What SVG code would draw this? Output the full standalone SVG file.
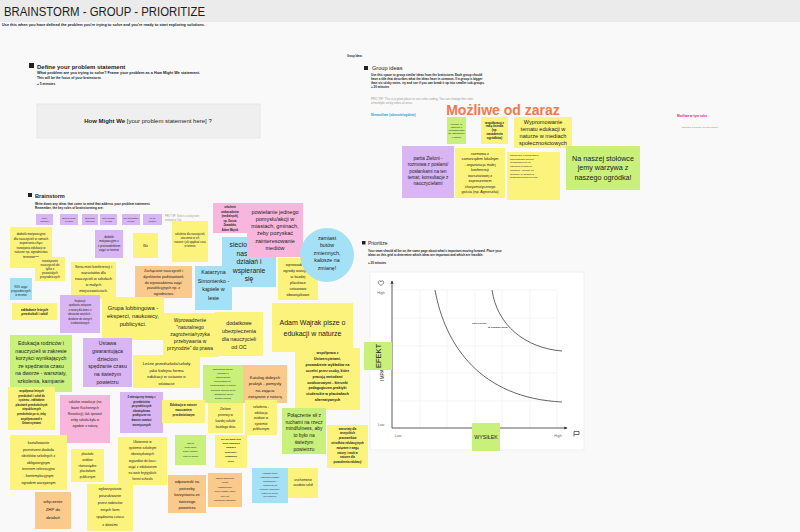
<svg xmlns="http://www.w3.org/2000/svg" width="800" height="532" viewBox="0 0 800 532">
<defs>
<style>
text{font-family:"Liberation Sans",Arial,sans-serif;fill:#1c1c1c}
.t{text-anchor:middle}
.y{fill:#fbf37c}.g{fill:#c9f07b}.p{fill:#d9b5f4}.k{fill:#f8b6dd}.c{fill:#a4e1f6}.o{fill:#f9ca8c}
.h{font-weight:bold}
.gray{fill:#9a9a9a}
.grid{stroke:#ececec;stroke-width:0.6;fill:none}
.axis{stroke:#333;stroke-width:0.8;fill:none}
.curve{stroke:#222;stroke-width:0.7;fill:none}
</style>
<marker id="ah" viewBox="0 0 6 6" refX="5" refY="3" markerWidth="4" markerHeight="4" orient="auto"><path d="M0,0L6,3L0,6z" fill="#333"/></marker>
</defs>
<rect width="800" height="532" fill="#f9f9f9"/>
<rect width="800" height="22" fill="#ebebeb"/>
<text x="4" y="16" font-size="12.5" textLength="201" lengthAdjust="spacingAndGlyphs" fill="#333">BRAINSTORM - GROUP - PRIORITIZE</text>
<text x="2" y="26" font-size="3.8" class="h" textLength="203" lengthAdjust="spacingAndGlyphs">Use this when you have defined the problem you're trying to solve and you're ready to start exploring solutions.</text>
<text x="347" y="57" font-size="2.6" class="h">Group Ideas</text>

<g id="define">
<rect x="29" y="63" width="5" height="5" fill="#222"/>
<text x="37" y="68.5" font-size="6" class="h">Define your problem statement</text>
<text x="37" y="74" font-size="3.3" class="h" textLength="163" lengthAdjust="spacingAndGlyphs">What problem are you trying to solve? Frame your problem as a How Might We statement.</text>
<text x="37" y="79" font-size="3.3" class="h">This will be the focus of your brainstorm.</text>
<text x="37" y="85" font-size="3.3" class="h">+ 5 minutes</text>
<rect x="37" y="104" width="223" height="34" fill="#efefef" stroke="#dcdcdc" stroke-width="0.6"/>
<text x="148" y="123" font-size="6" class="t"><tspan class="h">How Might We</tspan> [your problem statement here] ?</text>
</g>

<g id="group-ideas">
<rect x="364" y="66" width="4" height="4" fill="#222"/>
<text x="372" y="70" font-size="5.6">Group ideas</text>
<text font-size="3" class="h"><tspan x="371" y="75.5">Use this space to group similar ideas from the brainstorm. Each group should</tspan><tspan x="371" y="79.5">have a title that describes what the ideas have in common. If a group is bigger</tspan><tspan x="371" y="83.5">than six sticky notes, try and see if you can break it up into smaller sub-groups.</tspan><tspan x="371" y="88">+ 20 minutes</tspan></text>
<text font-size="3" class="gray"><tspan x="371" y="100">PRO TIP: This is a great place to use color-coding. You can change the color</tspan><tspan x="371" y="104">of multiple sticky notes at once.</tspan></text>
<text x="371" y="116" font-size="3.2" class="h" style="fill:#1a9ad6">Niemożliwe (obecnie/ogólnie)</text>
<text x="503" y="115" font-size="14" class="t h" style="fill:#f07a4c">Możliwe od zaraz</text>
<text x="677" y="117" font-size="3.2" class="h" style="fill:#e8207a">Możliwe w tym roku</text>
<text x="682" y="128" font-size="2.4" class="h" style="fill:#f39a1e">Możliwe w dalszej perspektywie</text>
</g>

<g id="g1"><rect class="g" x="447" y="117" width="19" height="27"/><text class="t" font-size="2.5"><tspan x="456.5" y="124.8">projekty in</tspan><tspan x="456.5" y="128">wspólnie z</tspan><tspan x="456.5" y="131.2">przedszkolami</tspan><tspan x="456.5" y="134.4">we współpracy</tspan><tspan x="456.5" y="137.6">z gminą</tspan></text></g>
<g id="g2"><rect class="y" x="481" y="117" width="27" height="27"/><text class="t h" font-size="3"><tspan x="494.5" y="123.5">współpraca z</tspan><tspan x="494.5" y="127.3">radą osiedla</tspan><tspan x="494.5" y="131.1">(np.</tspan><tspan x="494.5" y="134.9">nasadzenia</tspan><tspan x="494.5" y="138.7">ogródków)</tspan></text></g>
<g id="g3"><rect class="y" x="514" y="117" width="58" height="31"/><text class="t" font-size="5.6"><tspan x="543" y="124">Wypromowanie</tspan><tspan x="543" y="131">tematu edukacji w</tspan><tspan x="543" y="138">naturze w mediach</tspan><tspan x="543" y="145">społecznościowych</tspan></text></g>
<g id="g4"><rect class="p" x="402" y="146" width="52" height="52"/><text class="t" font-size="4.6"><tspan x="428" y="160">partia Zieloni -</tspan><tspan x="428" y="166.3">rozmowa z posłami/</tspan><tspan x="428" y="172.6">posłankami na ten</tspan><tspan x="428" y="178.9">temat; konsultacje z</tspan><tspan x="428" y="185.2">nauczycielami</tspan></text></g>
<g id="g5"><rect class="y" x="455" y="148" width="50" height="50"/><text class="t" font-size="3.7"><tspan x="480" y="154.5">rozmowa z</tspan><tspan x="480" y="160">samorządem lokalnym</tspan><tspan x="480" y="165.5">- organizacja małej</tspan><tspan x="480" y="171">konferencji</tspan><tspan x="480" y="176.5">warsztatowej z</tspan><tspan x="480" y="182">zaproszeniem</tspan><tspan x="480" y="187.5">charyzmatycznego</tspan><tspan x="480" y="193">gościa (np. Agnieszka)</tspan></text></g>
<g id="g6"><rect class="y" x="507" y="152" width="53" height="48"/><text font-size="2.4"><tspan x="510" y="156">współpraca z samorządem</tspan><tspan x="510" y="159.7">województwa/ ścieżką</tspan><tspan x="510" y="163.4">pedagogicznych na</tspan><tspan x="510" y="167.1">zajęciach w naszych</tspan><tspan x="510" y="170.8">ogrodach - miejsce na</tspan><tspan x="510" y="174.5">działania, w ośrodku w</tspan><tspan x="510" y="178.2">doświadczeniach przyrody</tspan></text></g>
<g id="g7"><rect class="g" x="566" y="146" width="74" height="44"/><text class="t" font-size="7.2"><tspan x="603" y="160.5">Na naszej stołówce</tspan><tspan x="603" y="170.1">jemy warzywa z</tspan><tspan x="603" y="179.7">naszego ogródka!</tspan></text></g>

<g id="brainstorm-head">
<rect x="28" y="193" width="4" height="4" fill="#222"/>
<text x="35" y="197.5" font-size="5.6" class="h">Brainstorm</text>
<text font-size="3.1" class="h"><tspan x="35" y="205">Write down any ideas that come to mind that address your problem statement.</tspan><tspan x="35" y="209">Remember, the key rules of brainstorming are:</tspan></text>
<text font-size="2.6" class="gray"><tspan x="165" y="217">PRO TIP: Select a sticky note</tspan><tspan x="165" y="221">and press Tab</tspan></text>
</g>
<g id="rule1"><rect class="p" x="36" y="214" width="17" height="11"/><text class="t" font-size="2.1"><tspan x="44.5" y="218.8">Defer</tspan><tspan x="44.5" y="221.8">judgment</tspan></text></g>
<g id="rule2"><rect class="p" x="60" y="214" width="18" height="11"/><text class="t" font-size="2.1"><tspan x="69" y="218.8">Build on ideas</tspan><tspan x="69" y="221.8">of others</tspan></text></g>
<g id="rule3"><rect class="p" x="82" y="214" width="16" height="11"/><text class="t" font-size="2.1"><tspan x="90" y="218.8">Encourage</tspan><tspan x="90" y="221.8">wild ideas</tspan></text></g>
<g id="rule4"><rect class="p" x="100" y="214" width="17" height="11"/><text class="t" font-size="2.1"><tspan x="108.5" y="218.8">Stay focused</tspan><tspan x="108.5" y="221.8">on topic</tspan></text></g>
<g id="rule5"><rect class="p" x="122" y="214" width="18" height="11"/><text class="t" font-size="1.9"><tspan x="131" y="218.8">One conversation</tspan><tspan x="131" y="221.8">at a time</tspan></text></g>
<g id="rule6"><rect class="p" x="143" y="214" width="19" height="11"/><text class="t" font-size="2.1"><tspan x="152.5" y="218.8">Go for</tspan><tspan x="152.5" y="221.8">quantity</tspan></text></g>

<g id="b1"><rect class="y" x="10" y="227" width="42" height="41"/><text class="t" font-size="3.1"><tspan x="31" y="235">dodatki motywacyjne</tspan><tspan x="31" y="239.5">dla nauczycieli w ramach</tspan><tspan x="31" y="244">wspierania chęci</tspan><tspan x="31" y="248.5">rozwijania edukacji w</tspan><tspan x="31" y="253">naturze np. ogrodnictwa</tspan><tspan x="31" y="257.5">terenowego</tspan></text></g>
<g id="b2"><rect class="y" x="35" y="257" width="30" height="24"/><text class="t" font-size="3"><tspan x="50" y="262">rozwiązanie</tspan><tspan x="50" y="266">nauczycieli do</tspan><tspan x="50" y="270">tylko z</tspan><tspan x="50" y="274">pozostałych</tspan><tspan x="50" y="278">przyrodniczych</tspan></text></g>
<g id="b3"><rect class="p" x="95" y="230" width="28" height="28"/><text class="t" font-size="3"><tspan x="109" y="238">dodatki</tspan><tspan x="109" y="242.3">motywacyjne z</tspan><tspan x="109" y="246.6">z przewodnikiem</tspan><tspan x="109" y="250.9">zajęć w terenie</tspan></text></g>
<g id="b4"><rect class="y" x="133" y="233" width="25" height="25"/><text class="t" font-size="3.5" x="145.5" y="247">Wz</text></g>
<g id="b5"><rect class="y" x="172" y="221" width="36" height="41"/><text class="t" font-size="2.7"><tspan x="190" y="235">szkolenia dla nauczycieli,</tspan><tspan x="190" y="239">otoczenie w ich</tspan><tspan x="190" y="243">naturze i jak spędzać czas</tspan><tspan x="190" y="247">w terenie</tspan></text></g>
<g id="b6"><rect class="k" x="213" y="203" width="34" height="30"/><text class="t h" font-size="2.6"><tspan x="230" y="208">szkolenie</tspan><tspan x="230" y="212.6">ambasadorów</tspan><tspan x="230" y="217.2">(medialnych),</tspan><tspan x="230" y="221.8">np. Dorota</tspan><tspan x="230" y="226.4">Zawadzka,</tspan><tspan x="230" y="231">Adam Wajrak</tspan></text></g>
<g id="b8"><rect class="c" x="222" y="237" width="54" height="50"/><text font-size="6.8"><tspan x="229.6" y="247">siecio</tspan><tspan x="236.5" y="255.5">nasz</tspan></text><text class="t" font-size="6.8"><tspan x="249" y="264">działań i</tspan><tspan x="249" y="272.5">wspieranie</tspan><tspan x="249" y="281">się</tspan></text></g>
<g id="b7"><rect class="k" x="247" y="203" width="56" height="54"/><text class="t" font-size="5.5"><tspan x="275" y="213.5">powielanie jednego</tspan><tspan x="275" y="220.8">pomysłu/akcji w</tspan><tspan x="275" y="228.1">miastach, gminach,</tspan><tspan x="275" y="235.4">żeby pozyskać</tspan><tspan x="275" y="242.7">zainteresowanie</tspan><tspan x="275" y="250">mediów</tspan></text></g>
<g id="b10"><rect class="c" x="195" y="266" width="37" height="44"/><text class="t" font-size="5.4"><tspan x="213.5" y="274">Katarzyna</tspan><tspan x="213.5" y="282.7">Simonienko -</tspan><tspan x="213.5" y="291.4">kąpiele w</tspan><tspan x="213.5" y="300.1">lesie</tspan></text></g>
<g id="b11"><rect class="y" x="278" y="258" width="40" height="42"/><text class="t" font-size="3.8"><tspan x="298" y="266">wprowadzenie</tspan><tspan x="298" y="272">ogrody warzywne</tspan><tspan x="298" y="278">w każdej</tspan><tspan x="298" y="284">placówce</tspan><tspan x="298" y="290">ustawowo</tspan><tspan x="298" y="296">obowiązkowe</tspan></text></g>
<g id="b9"><circle class="c" cx="327" cy="255" r="27"/><text class="t" font-size="5.3"><tspan x="327" y="239.5">zamiast</tspan><tspan x="327" y="247.1">butów</tspan><tspan x="327" y="254.7">zmiennych,</tspan><tspan x="327" y="262.3">kalosze na</tspan><tspan x="327" y="269.9">zmianę!</tspan></text></g>
<g id="b12"><rect class="y" x="71" y="262" width="45" height="37"/><text class="t" font-size="3.7"><tspan x="93.5" y="268">Seria mini konferencji i</tspan><tspan x="93.5" y="274.1">warsztatów dla</tspan><tspan x="93.5" y="280.2">nauczycieli w szkołach</tspan><tspan x="93.5" y="286.3">w małych</tspan><tspan x="93.5" y="292.4">miejscowościach.</tspan></text></g>
<g id="b13"><rect class="o" x="135" y="266" width="57" height="32"/><text class="t" font-size="3.6"><tspan x="163.5" y="272">Zachęcanie nauczycieli i</tspan><tspan x="163.5" y="277.8">dyrektorów podstawówek</tspan><tspan x="163.5" y="283.6">do wprowadzenia zajęć</tspan><tspan x="163.5" y="289.4">pozalekcyjnych np. z</tspan><tspan x="163.5" y="295.2">ogrodnictwa</tspan></text></g>
<g id="b14"><rect class="c" x="10" y="278" width="22" height="22"/><text class="t" font-size="2.9"><tspan x="21" y="288">90% zajęć</tspan><tspan x="21" y="292.2">przyrodniczych</tspan><tspan x="21" y="296.4">w terenie</tspan></text></g>
<g id="b15"><rect class="y" x="12" y="303" width="45" height="17"/><text class="t h" font-size="3"><tspan x="34.5" y="310.5">zakładanie leśnych</tspan><tspan x="34.5" y="315">przedszkoli i szkół</tspan></text></g>
<g id="b16"><rect class="p" x="60" y="295" width="40" height="38"/><text class="t" font-size="2.6"><tspan x="80" y="302">Inspiracje</tspan><tspan x="80" y="306.4">spotkania związane</tspan><tspan x="80" y="310.8">z naturą dla dzieci z</tspan><tspan x="80" y="315.2">obszarów wiejskich -</tspan><tspan x="80" y="319.6">działanie do różnych</tspan><tspan x="80" y="324">środowiskowych</tspan></text></g>
<g id="b17"><rect class="y" x="102" y="297" width="62" height="43"/><text class="t" font-size="5.8"><tspan x="133" y="310">Grupa lobbingowa -</tspan><tspan x="133" y="318">eksperci, naukowcy,</tspan><tspan x="133" y="326">publicyści.</tspan></text></g>
<g id="b20"><rect class="y" x="163" y="313" width="55" height="44"/><text class="t" font-size="4.9"><tspan x="190" y="322">Wprowadzenie</tspan><tspan x="190" y="329">"naturalnego</tspan><tspan x="190" y="336">zagrożenia/ryzyka</tspan><tspan x="190" y="343">przebywania w</tspan><tspan x="190" y="350">przyrodzie" do prawa</tspan></text></g>
<g id="b21"><rect class="y" x="215" y="312" width="48" height="44"/><text class="t" font-size="5.3"><tspan x="239" y="325">dodatkowe</tspan><tspan x="239" y="333">ubezpieczenia</tspan><tspan x="239" y="341">dla nauczycieli</tspan><tspan x="239" y="349">od OC</tspan></text></g>
<g id="b18"><rect class="g" x="10" y="335" width="62" height="57"/><text class="t" font-size="5.2"><tspan x="41" y="345">Edukacja rodziców i</tspan><tspan x="41" y="352.5">nauczycieli w zakresie</tspan><tspan x="41" y="360">korzyści wynikających</tspan><tspan x="41" y="367.5">ze spędzania czasu</tspan><tspan x="41" y="375">na dworze - warsztaty,</tspan><tspan x="41" y="382.5">szkolenia, kampanie</tspan></text></g>
<g id="b19"><rect class="p" x="83" y="338" width="49" height="49"/><text class="t" font-size="5.2"><tspan x="107.5" y="345">Ustawa</tspan><tspan x="107.5" y="352.8">gwarantująca</tspan><tspan x="107.5" y="360.6">dzieciom</tspan><tspan x="107.5" y="368.4">spędzanie czasu</tspan><tspan x="107.5" y="376.2">na świeżym</tspan><tspan x="107.5" y="384">powietrzu</tspan></text></g>
<g id="b22"><rect class="y" x="133" y="355" width="67" height="33"/><text class="t" font-size="4.2"><tspan x="166.5" y="365">Leśne przedszkola/szkoły</tspan><tspan x="166.5" y="371.7">jako kolejna forma</tspan><tspan x="166.5" y="378.4">edukacji w ustawie o</tspan><tspan x="166.5" y="385.1">oświacie</tspan></text></g>
<g id="b23"><rect class="y" x="272" y="303" width="81" height="49"/><text class="t" font-size="7"><tspan x="312.5" y="325">Adam Wajrak pisze o</tspan><tspan x="312.5" y="335.5">edukacji w naturze</tspan></text></g>
<g id="b24"><rect class="y" x="295" y="348" width="65" height="62"/><text class="t h" font-size="3.5"><tspan x="327.5" y="354">współpraca z</tspan><tspan x="327.5" y="359.9">Uniwersytetami,</tspan><tspan x="327.5" y="365.8">prowadzenie wykładów na</tspan><tspan x="327.5" y="371.7">uczelni przez osoby, które</tspan><tspan x="327.5" y="377.6">pracują metodami</tspan><tspan x="327.5" y="383.5">outdoorowymi - kierunki</tspan><tspan x="327.5" y="389.4">pedagogiczne-praktyki</tspan><tspan x="327.5" y="395.3">studenckie w placówkach</tspan><tspan x="327.5" y="401.2">alternatywnych</tspan></text></g>
<g id="b25"><rect class="g" x="203" y="365" width="40" height="38"/><text class="t" font-size="2.4"><tspan x="223" y="369.5">współpraca między</tspan><tspan x="223" y="373.7">szkołami a</tspan><tspan x="223" y="377.9">organizacjami</tspan><tspan x="223" y="382.1">pozarządowymi -</tspan><tspan x="223" y="386.3">organizowanie w trakcie</tspan><tspan x="223" y="390.5">dla szkół edukacyjnych</tspan><tspan x="223" y="394.7">- kształcenie dzieci</tspan><tspan x="223" y="398.9">tematu ekologii</tspan></text></g>
<g id="b26"><rect class="o" x="243" y="365" width="44" height="38"/><text class="t" font-size="4.2"><tspan x="265" y="378.5">Katalog dobrych</tspan><tspan x="265" y="385.1">praktyk - pomysły</tspan><tspan x="265" y="391.7">na zajęcia</tspan><tspan x="265" y="398.3">związane z naturą</tspan></text></g>
<g id="b27"><rect class="y" x="8" y="387" width="47" height="43"/><text class="t h" font-size="2.6"><tspan x="31.5" y="392">współpraca leśnych</tspan><tspan x="31.5" y="396.6">przedszkoli i szkół do</tspan><tspan x="31.5" y="401.2">systemu - zakładanie</tspan><tspan x="31.5" y="405.8">placówek przedszkolnych</tspan><tspan x="31.5" y="410.4">niepublicznych</tspan><tspan x="31.5" y="415">przedszkola po to, żeby</tspan><tspan x="31.5" y="419.6">współpracowali z</tspan><tspan x="31.5" y="424.2">Uniwersytetami</tspan></text></g>
<g id="b28"><rect class="k" x="60" y="395" width="50" height="48"/><text class="t" font-size="3.4"><tspan x="85" y="403">szkolne rewolucje (na</tspan><tspan x="85" y="409">bazie Kuchennych</tspan><tspan x="85" y="415">Rewolucji) Jak sprawić</tspan><tspan x="85" y="421">żeby szkoła była w</tspan><tspan x="85" y="427">zgodzie z naturą</tspan></text></g>
<g id="b29"><rect class="p" x="120" y="392" width="43" height="41"/><text class="t h" font-size="2.7"><tspan x="141.5" y="398">2 miesięczny tematy z</tspan><tspan x="141.5" y="402.6">przedmiotów</tspan><tspan x="141.5" y="407.2">przyrodniczych</tspan><tspan x="141.5" y="411.8">obowiązkowo</tspan><tspan x="141.5" y="416.4">praktyczne na</tspan><tspan x="141.5" y="421">dworze zamiast</tspan><tspan x="141.5" y="425.6">teoretycznych</tspan></text></g>
<g id="b30"><rect class="y" x="162" y="400" width="43" height="23"/><text class="t h" font-size="2.9"><tspan x="183.5" y="406">Edukacja w naturze</tspan><tspan x="183.5" y="411.2">nauczaniem</tspan><tspan x="183.5" y="416.4">przedmiotowym</tspan></text></g>
<g id="b31"><rect class="y" x="208" y="403" width="35" height="30"/><text class="t" font-size="3.3"><tspan x="225.5" y="410">Zielone</tspan><tspan x="225.5" y="416">przerwy w</tspan><tspan x="225.5" y="422">każdej szkole</tspan><tspan x="225.5" y="428">każdego dnia</tspan></text></g>
<g id="b32"><rect class="y" x="245" y="400" width="32" height="35"/><text class="t" font-size="3.3"><tspan x="261" y="408">szkolenia -</tspan><tspan x="261" y="413.6">edukacja</tspan><tspan x="261" y="419.2">outdoor w</tspan><tspan x="261" y="424.8">systemie</tspan><tspan x="261" y="430.4">publicznym</tspan></text></g>
<g id="b33"><rect class="g" x="282" y="408" width="44" height="46"/><text class="t" font-size="4.9"><tspan x="304" y="417">Połączenie sił z</tspan><tspan x="304" y="423.7">ruchami na rzecz</tspan><tspan x="304" y="430.4">mindfulness, aby</tspan><tspan x="304" y="437.1">to było na</tspan><tspan x="304" y="443.8">świeżym</tspan><tspan x="304" y="450.5">powietrzu</tspan></text></g>
<g id="b34"><rect class="y" x="327" y="425" width="41" height="43"/><text class="t h" font-size="2.8"><tspan x="347.5" y="429.5">warsztaty dla</tspan><tspan x="347.5" y="434.3">wszystkich</tspan><tspan x="347.5" y="439.1">pracowników</tspan><tspan x="347.5" y="443.9">ośrodków edukacyjnych</tspan><tspan x="347.5" y="448.7">związane z wagą</tspan><tspan x="347.5" y="453.5">natury i nauk w</tspan><tspan x="347.5" y="458.3">naturze dla</tspan><tspan x="347.5" y="463.1">powodzenia edukacji</tspan></text></g>
<g id="b35"><rect class="y" x="10" y="435" width="57" height="55"/><text class="t" font-size="3.6"><tspan x="38.5" y="444">kształtowanie</tspan><tspan x="38.5" y="450.6">przestrzeni dookoła</tspan><tspan x="38.5" y="457.2">obiektów szkolnych z</tspan><tspan x="38.5" y="463.8">obligatoryjnym</tspan><tspan x="38.5" y="470.4">terenem rekreacyjno</tspan><tspan x="38.5" y="477">- kontemplacyjnym</tspan><tspan x="38.5" y="483.6">ogrodem warzywnym</tspan></text></g>
<g id="b36"><rect class="y" x="71" y="449" width="33" height="33"/><text class="t" font-size="3.1"><tspan x="87.5" y="455">placówki</tspan><tspan x="87.5" y="460.8">outdoor</tspan><tspan x="87.5" y="466.6">równorzędne</tspan><tspan x="87.5" y="472.4">placówkom</tspan><tspan x="87.5" y="478.2">publicznym</tspan></text></g>
<g id="b37"><rect class="y" x="118" y="437" width="49" height="48"/><text class="t" font-size="3.3"><tspan x="142.5" y="443">Ułatwienie w</tspan><tspan x="142.5" y="449.2">systemie szkolnym</tspan><tspan x="142.5" y="455.4">obowiązkowych</tspan><tspan x="142.5" y="461.6">wyjazdów do lasu i</tspan><tspan x="142.5" y="467.8">zajęć z edukatorem</tspan><tspan x="142.5" y="474">na wzór brytyjskich</tspan><tspan x="142.5" y="480.2">forest schools</tspan></text></g>
<g id="b38"><rect class="g" x="175" y="435" width="31" height="30"/><text class="t" font-size="2.3"><tspan x="190.5" y="444">zajęcia</tspan><tspan x="190.5" y="448.2">rozgrywane</tspan><tspan x="190.5" y="452.4">szkoły szkolne</tspan><tspan x="190.5" y="456.6">zajęć w lasach</tspan></text></g>
<g id="b39"><rect class="y" x="215" y="435" width="32" height="33"/><text class="t h" font-size="2.5"><tspan x="231" y="439.5">ale nie może być</tspan><tspan x="231" y="443.9">tylko edukacja</tspan><tspan x="231" y="448.3">poprzez</tspan><tspan x="231" y="452.7">przyrody i</tspan><tspan x="231" y="457.1">rozwijanie</tspan><tspan x="231" y="461.5">teorii</tspan></text></g>
<g id="b40"><rect class="o" x="168" y="475" width="38" height="38"/><text class="t" font-size="4"><tspan x="187" y="483">odpowiedź na</tspan><tspan x="187" y="489.6">potrzeby</tspan><tspan x="187" y="496.2">korzystania ze</tspan><tspan x="187" y="502.8">świeżego</tspan><tspan x="187" y="509.4">powietrza</tspan></text></g>
<g id="b41"><rect class="y" x="87" y="484" width="46" height="47"/><text class="t" font-size="3.7"><tspan x="110" y="490">wykorzystanie</tspan><tspan x="110" y="497.1">poszukiwanie</tspan><tspan x="110" y="504.2">przez rodziców</tspan><tspan x="110" y="511.3">innych form</tspan><tspan x="110" y="518.4">spędzania czasu</tspan><tspan x="110" y="525.5">z dziećmi</tspan></text></g>
<g id="b42"><rect class="o" x="35" y="492" width="36" height="37"/><text class="t" font-size="4.3"><tspan x="53" y="503">włączenie</tspan><tspan x="53" y="510.8">ZHP do</tspan><tspan x="53" y="518.6">działań</tspan></text></g>
<g id="b43"><rect class="o" x="208" y="473" width="34" height="34"/><text class="t" font-size="2.4"><tspan x="225" y="479">ogrody społeczne</tspan><tspan x="225" y="483.4">(nowe</tspan><tspan x="225" y="487.8">udostępnione</tspan><tspan x="225" y="492.2">przez miasto, gdzie</tspan><tspan x="225" y="496.6">uczy się</tspan><tspan x="225" y="501">zarządzać ogrodem)</tspan></text></g>
<g id="b44"><rect class="c" x="252" y="468" width="36" height="35"/><text class="t" font-size="2.2"><tspan x="270" y="474">edukacja wokół</tspan><tspan x="270" y="477.9">realizacja podstawy</tspan><tspan x="270" y="481.8">programowej i</tspan><tspan x="270" y="485.7">odpowiedzi na</tspan><tspan x="270" y="489.6">potrzeby rozwojowe,</tspan><tspan x="270" y="493.5">dostęp do wiedzy</tspan><tspan x="270" y="497.4">przyrodniczej</tspan></text></g>
<g id="b45"><rect class="y" x="288" y="468" width="30" height="30"/><text class="t" font-size="3"><tspan x="303" y="481">uruchomienie</tspan><tspan x="303" y="485.6">zasobów szkół</tspan></text></g>

<g id="prioritize">
<rect x="362" y="241" width="3.5" height="3.5" fill="#222"/>
<text x="368" y="245" font-size="5">Prioritize</text>
<text font-size="3" class="h"><tspan x="368" y="251.5">Your team should all be on the same page about what's important moving forward. Place your</tspan><tspan x="368" y="255.5">ideas on this grid to determine which ideas are important and which are feasible.</tspan><tspan x="368" y="264">+ 20 minutes</tspan></text>
<rect x="370" y="272" width="214" height="178" fill="#fff" stroke="#e6e6e6" stroke-width="0.6"/>
<path class="grid" d="M420,290V428M447,290V428M475,290V428M502,290V428M530,290V428M557,290V428M392,290H557M392,318H557M392,346H557M392,373H557M392,401H557"/>
<path d="M378.5,281.5c0.8-1 2.2-1 2.5,0.3c0.3-1.3 1.7-1.3 2.5-0.3c0.8,1.2-0.5,2.7-2.5,4c-2-1.3-3.3-2.8-2.5-4z" fill="none" stroke="#333" stroke-width="0.6"/>
<text x="381" y="294" font-size="3.6" class="t" style="fill:#666">High</text>
<text x="381" y="426" font-size="3.6" class="t" style="fill:#666">Low</text>
<text x="398" y="436.5" font-size="3.6" class="t" style="fill:#666">Low</text>
<text x="558" y="436.5" font-size="3.6" class="t" style="fill:#666">High</text>
<path d="M574,431.5v5M574,431.5h5v3h-5" fill="none" stroke="#333" stroke-width="0.7"/>
<text x="384" y="381" font-size="5" transform="rotate(-90 384 381)">IMPACT</text>
<text font-size="2.4" class="h"><tspan x="472" y="323.5">This is a title.</tspan><tspan x="488" y="327.5">to visualize them</tspan></text>
</g>
<g id="connectors">
<path class="axis" d="M392,428V281" marker-end="url(#ah)"/>
<path class="axis" d="M392,428H567" marker-end="url(#ah)"/>
<path class="curve" d="M435,290C445,345 480,398 562,402"/>
<path class="curve" d="M492,290C497,325 525,348 562,351"/>
</g>
<g id="efekt"><rect class="g" x="364" y="342" width="28" height="28"/><text class="t" font-size="7.5" transform="rotate(-90 378 356)" x="378" y="358.6">EFEKT</text></g>
<g id="wysilek"><rect class="g" x="472" y="423" width="28" height="28"/><text class="t" font-size="5.3" x="486" y="438.5">WYSIŁEK</text></g>
</svg>
